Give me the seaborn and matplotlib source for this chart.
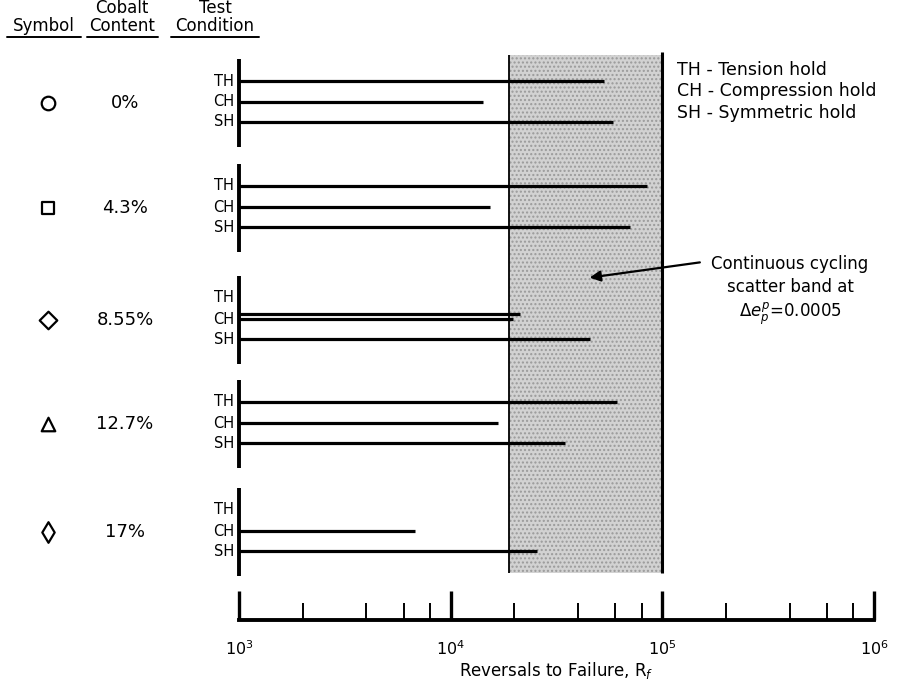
import numpy as np
import pandas as pd
import matplotlib
matplotlib.use("Agg")
import matplotlib.pyplot as plt
import matplotlib.transforms as mtransforms
from matplotlib.ticker import LogLocator, NullFormatter, FixedLocator
import seaborn as sns

# ---------------- data ----------------
cobalt = ["0%", "4.3%", "8.55%", "12.7%", "17%"]
symbols = ["o", "s", "D", "^", "d"]
conditions = ["TH", "CH", "SH"]
life_TH = [5.3e4, 8.5e4, np.nan, 6.1e4, np.nan]
life_CH = [1.42e4, 1.53e4, 1.97e4, 1.67e4, 6.8e3]
life_CH_repeat = [np.nan, np.nan, 2.12e4, np.nan, np.nan]
life_SH = [5.85e4, 7.0e4, 4.55e4, 3.47e4, 2.56e4]
band_low, band_high = 1.88e4, 1.0e5
xticks_major = [1e3, 1e4, 1e5, 1e6]
xtick_labels = [r"$10^3$", r"$10^4$", r"$10^5$", r"$10^6$"]
legend_lines = ["TH - Tension hold", "CH - Compression hold", "SH - Symmetric hold"]

# ---------------- styling ----------------
sns.set_style("white")
plt.rcParams["font.family"] = ["DejaVu Sans"]
plt.rcParams["mathtext.fontset"] = "dejavusans"
plt.rcParams["text.color"] = "black"
plt.rcParams["axes.labelcolor"] = "black"
plt.rcParams["xtick.color"] = "black"
plt.rcParams["axes.edgecolor"] = "black"

W, H = 903, 685
fig = plt.figure(figsize=(W / 100, H / 100), dpi=100)

def fx(px):
    return px / W

def fy(py):
    return 1 - py / H

x0_px, x1_px, ytop_px, ybot_px = 239, 874, 50, 620
ax = fig.add_axes([fx(x0_px), fy(ybot_px), (x1_px - x0_px) / W, (ybot_px - ytop_px) / H])
ax.set_xscale("log")
ax.set_xlim(1e3, 1e6)
ax.set_ylim(ybot_px, ytop_px)  # y in pixel-like units, downward

# row positions (vertical layout)
group_top = [81, 186, 298, 402, 510]
row_off = {"TH": 0, "CH": 21, "SH": 41}

rows = []
for g, c in enumerate(cobalt):
    for cond, arr in zip(conditions, [life_TH, life_CH, life_SH]):
        rows.append(dict(cobalt=c, cond=cond, life=arr[g], y=group_top[g] + row_off[cond]))
    if not np.isnan(life_CH_repeat[g]):
        rows.append(dict(cobalt=c, cond="CH", life=life_CH_repeat[g], y=group_top[g] + row_off["CH"] - 5))
df = pd.DataFrame(rows)

# scatter band
ax.fill_betweenx([55, 573], band_low, band_high, facecolor="#d2d2d2", edgecolor="none", zorder=1)
ax.fill_betweenx([55, 573], band_low, band_high, facecolor="none", edgecolor="#9a9a9a",
                 hatch="....", linewidth=0, zorder=1)
ax.vlines(band_low, 55, 573, color="black", lw=1.3, zorder=3)
ax.vlines(band_high, 52, 573, color="black", lw=2.2, zorder=3)

# horizontal life lines
d = df.dropna(subset=["life"])
ax.hlines(d["y"], 1e3, d["life"], color="black", lw=2.3, zorder=4, clip_on=False)

# group vertical bars
for g in range(len(cobalt)):
    ax.vlines(1e3, group_top[g] - 22, group_top[g] + row_off["SH"] + 25, color="black",
              lw=2.8, zorder=5, clip_on=False)

# condition labels
trans_left = mtransforms.blended_transform_factory(fig.transFigure, ax.transData)
for _, r in df.drop_duplicates(subset=["cobalt", "cond"]).iterrows():
    ax.text(fx(234), r["y"], r["cond"], transform=trans_left, ha="right", va="center",
            fontsize=10.5)

# symbols column
sym_df = pd.DataFrame({"cobalt": cobalt, "marker": symbols,
                       "y": [t + row_off["CH"] + 1 for t in group_top]})
sym_ax = fig.add_axes([0, fy(ybot_px), 1, (ybot_px - ytop_px) / H])
sym_ax.set_xlim(0, W)
sym_ax.set_ylim(ybot_px, ytop_px)
sym_ax.axis("off")
sym_df["x"] = 48
sym_sizes = {"o": 95, "s": 85, "D": 80, "^": 95, "d": 110}
for _, r in sym_df.iterrows():
    sns.scatterplot(x=[r["x"]], y=[r["y"]], marker=r["marker"], s=sym_sizes[r["marker"]],
                    facecolor="white", edgecolor="black", linewidth=1.6, ax=sym_ax, legend=False)
    sym_ax.text(125, r["y"], r["cobalt"], ha="center", va="center", fontsize=13)

# headers (two-line headers as single multi-line texts)
hdr = dict(ha="center", va="baseline", fontsize=12, linespacing=1.0, multialignment="center")
fig.text(fx(44), fy(31), "Symbol", **hdr)
fig.text(fx(122), fy(31), "Cobalt\nContent", **hdr)
fig.text(fx(215), fy(31), "Test\nCondition", **hdr)
for a, b in [(7, 81), (87, 158), (171, 259)]:
    fig.add_artist(plt.Line2D([fx(a), fx(b)], [fy(37), fy(37)], color="black", lw=1.4))

# right legend text
for i, t in enumerate(legend_lines):
    fig.text(fx(677), fy(70 + 21.5 * i), t, ha="left", va="center", fontsize=12.5)

# annotation
fig.text(fx(790), fy(291), "Continuous cycling\nscatter band at\n" + r"$\Delta e^{p}_{p}$=0.0005",
         ha="center", va="center", fontsize=12, linespacing=1.35)
ax.annotate("", xy=(4.4e4, 278), xytext=(1.55e5, 262),
            arrowprops=dict(arrowstyle="-|>", color="black", lw=1.6, mutation_scale=16),
            annotation_clip=False, zorder=6)

# bottom axis
for s in ["top", "right", "left"]:
    ax.spines[s].set_visible(False)
ax.spines["bottom"].set_linewidth(2.8)
ax.spines["bottom"].set_color("black")
ax.set_yticks([])
ax.xaxis.set_major_locator(FixedLocator(xticks_major))
ax.set_xticklabels(xtick_labels, fontsize=11.5)
ax.xaxis.set_minor_locator(LogLocator(base=10, subs=(2, 4, 6, 8)))
ax.xaxis.set_minor_formatter(NullFormatter())
ax.tick_params(axis="x", which="both", bottom=True, top=False, labelbottom=True)
ax.tick_params(axis="x", which="major", direction="in", length=21, width=2.4, pad=14, colors="black")
ax.tick_params(axis="x", which="minor", direction="in", length=12, width=1.4, colors="black")
ax.set_xlabel(r"Reversals to Failure, R$_f$", fontsize=12, labelpad=1)

fig.savefig("out.png", dpi=100)
